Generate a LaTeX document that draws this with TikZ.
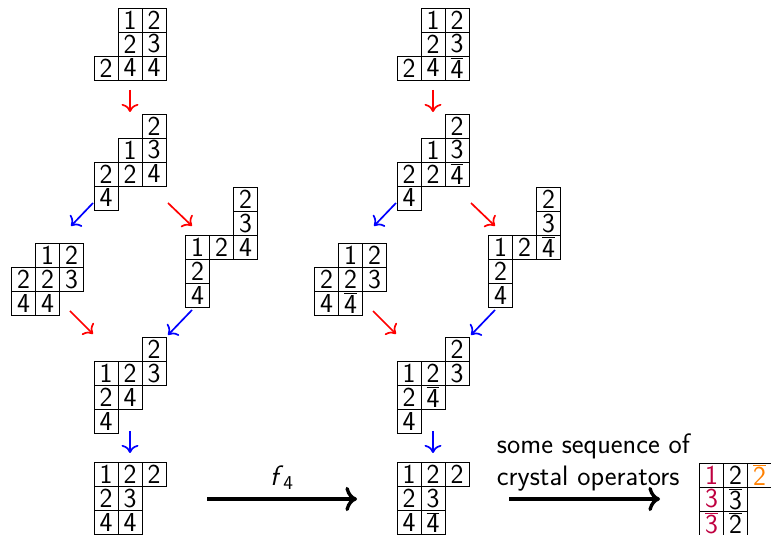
\documentclass[tikz,border=0pt]{standalone}
\usepackage{xcolor}
\usetikzlibrary{arrows.meta}

% barred letter
\newcommand{\br}[1]{$\overline{\mbox{#1}}$}
% one row of a tableau: name, row index, list of column/entry
\newcommand{\trow}[3]{%
  \foreach \col/\v in {#3}
    \node[cell] (#1-#2-\col) at ({(\col-0.5)*0.6},{-(#2-0.5)*0.6}) {\v};}

\tikzset{
  cell/.style={draw, line width=0.6pt, minimum size=0.6cm, inner sep=0pt,
    font=\sffamily\fontsize{19.5}{19.5}\selectfont},
  redarr/.style={-{To[scale=1.35]}, red, line width=1.2pt},
  bluearr/.style={-{To[scale=1.35]}, blue, line width=1.2pt},
  bigarr/.style={-{To[scale=1.2]}, line width=2.4pt},
}

\begin{document}
\begin{tikzpicture}[font=\sffamily]
  \useasboundingbox (0,0) rectangle (19.275,-13.375);

  % left column
  \begin{scope}[shift={(2.35,-0.2)}]
    \trow{a1}{1}{2/1,3/2}
    \trow{a1}{2}{2/2,3/3}
    \trow{a1}{3}{1/2,2/4,3/4}
  \end{scope}
  \begin{scope}[shift={(2.35,-2.85)}]
    \trow{a2}{1}{3/2}
    \trow{a2}{2}{2/1,3/3}
    \trow{a2}{3}{1/2,2/2,3/4}
    \trow{a2}{4}{1/4}
  \end{scope}
  \begin{scope}[shift={(0.29,-6.08)}]
    \trow{a3}{1}{2/1,3/2}
    \trow{a3}{2}{1/2,2/2,3/3}
    \trow{a3}{3}{1/4,2/4}
  \end{scope}
  \begin{scope}[shift={(4.64,-4.68)}]
    \trow{a4}{1}{3/2}
    \trow{a4}{2}{3/3}
    \trow{a4}{3}{1/1,2/2,3/4}
    \trow{a4}{4}{1/2}
    \trow{a4}{5}{1/4}
  \end{scope}
  \begin{scope}[shift={(2.35,-8.43)}]
    \trow{a5}{1}{3/2}
    \trow{a5}{2}{1/1,2/2,3/3}
    \trow{a5}{3}{1/2,2/4}
    \trow{a5}{4}{1/4}
  \end{scope}
  \begin{scope}[shift={(2.35,-11.56)}]
    \trow{a6}{1}{1/1,2/2,3/2}
    \trow{a6}{2}{1/2,2/3}
    \trow{a6}{3}{1/4,2/4}
  \end{scope}

  % right column
  \begin{scope}[shift={(9.925,-0.2)}]
    \trow{b1}{1}{2/1,3/2}
    \trow{b1}{2}{2/2,3/3}
    \trow{b1}{3}{1/2,2/4,3/\br{4}}
  \end{scope}
  \begin{scope}[shift={(9.925,-2.85)}]
    \trow{b2}{1}{3/2}
    \trow{b2}{2}{2/1,3/3}
    \trow{b2}{3}{1/2,2/2,3/\br{4}}
    \trow{b2}{4}{1/4}
  \end{scope}
  \begin{scope}[shift={(7.865,-6.08)}]
    \trow{b3}{1}{2/1,3/2}
    \trow{b3}{2}{1/2,2/2,3/3}
    \trow{b3}{3}{1/4,2/\br{4}}
  \end{scope}
  \begin{scope}[shift={(12.215,-4.68)}]
    \trow{b4}{1}{3/2}
    \trow{b4}{2}{3/3}
    \trow{b4}{3}{1/1,2/2,3/\br{4}}
    \trow{b4}{4}{1/2}
    \trow{b4}{5}{1/4}
  \end{scope}
  \begin{scope}[shift={(9.925,-8.43)}]
    \trow{b5}{1}{3/2}
    \trow{b5}{2}{1/1,2/2,3/3}
    \trow{b5}{3}{1/2,2/\br{4}}
    \trow{b5}{4}{1/4}
  \end{scope}
  \begin{scope}[shift={(9.925,-11.56)}]
    \trow{b6}{1}{1/1,2/2,3/2}
    \trow{b6}{2}{1/2,2/3}
    \trow{b6}{3}{1/4,2/\br{4}}
  \end{scope}

  % result
  \begin{scope}[shift={(17.49,-11.575)}]
    \trow{c}{1}{1/\textcolor{purple}{1},2/2,3/\textcolor{orange}{\br{2}}}
    \trow{c}{2}{1/\textcolor{purple}{3},2/\br{3}}
    \trow{c}{3}{1/\textcolor{purple}{\br{3}},2/\br{2}}
  \end{scope}

  % crystal arrows, same in both columns
  \foreach \p/\dx in {a/0,b/7.575} {
    \begin{scope}[xshift=\dx cm]
      \coordinate (\p-r1s) at (3.25,-2.25);   \coordinate (\p-r1e) at (3.25,-2.8);
      \coordinate (\p-b1s) at (2.325,-5.075); \coordinate (\p-b1e) at (1.775,-5.65);
      \coordinate (\p-r2s) at (4.2,-5.075);   \coordinate (\p-r2e) at (4.8,-5.65);
      \coordinate (\p-r3s) at (1.75,-7.775);  \coordinate (\p-r3e) at (2.325,-8.35);
      \coordinate (\p-b2s) at (4.8,-7.75);    \coordinate (\p-b2e) at (4.2,-8.375);
      \coordinate (\p-b3s) at (3.25,-10.775); \coordinate (\p-b3e) at (3.25,-11.325);
    \end{scope}
    \draw[redarr] (\p-r1s) -- (\p-r1e);
    \draw[bluearr] (\p-b1s) -- (\p-b1e);
    \draw[redarr] (\p-r2s) -- (\p-r2e);
    \draw[redarr] (\p-r3s) -- (\p-r3e);
    \draw[bluearr] (\p-b2s) -- (\p-b2e);
    \draw[bluearr] (\p-b3s) -- (\p-b3e);
  }

  % bottom arrows
  \coordinate (fs) at (5.175,-12.475);
  \coordinate (fe) at (8.925,-12.475);
  \draw[bigarr] (fs) -- (fe) node[midway, above=2pt, font=\sffamily\fontsize{20}{20}\selectfont] {\textit{f}\textsubscript{4}};
  \node[anchor=west, align=left, font=\sffamily\fontsize{20}{23}\selectfont] (seq) at (12.3,-11.57)
    {some sequence of\\crystal operators};
  \coordinate (ss) at (12.725,-12.475);
  \coordinate (se) at (16.5,-12.475);
  \draw[bigarr] (ss) -- (se);
\end{tikzpicture}
\end{document}
